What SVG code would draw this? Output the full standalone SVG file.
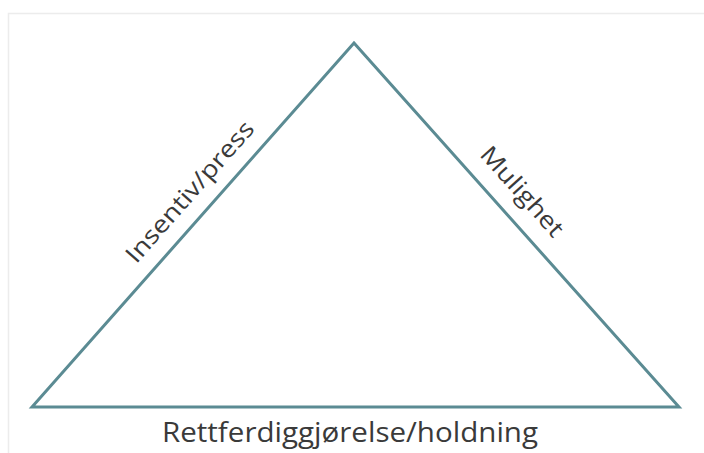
<svg xmlns="http://www.w3.org/2000/svg" width="704" height="453" viewBox="0 0 704 453">
  <style>
    .lbl { font-family: "Open Sans", "Noto Sans", "Liberation Sans", sans-serif; fill: #3a3a3a; }
    .edge { fill: none; stroke: #5b8b93; stroke-width: 3; stroke-linejoin: miter; }
  </style>
  <rect x="0" y="0" width="704" height="453" fill="#ffffff"/>
  <path d="M8.5 460 V13.5 H710" fill="none" stroke="#ececec" stroke-width="1.5"/>
  <g id="connectors">
    <polygon id="triangle" class="edge" points="354,43 679,407 32,407"/>
  </g>
  <g id="insentiv">
    <text class="lbl" font-size="24" text-anchor="middle" textLength="180" lengthAdjust="spacingAndGlyphs" transform="translate(196,197) rotate(-48.5)">Insentiv/press</text>
  </g>
  <g id="mulighet">
    <text class="lbl" font-size="24" text-anchor="middle" textLength="112" lengthAdjust="spacingAndGlyphs" transform="translate(516,197) rotate(48.2)">Mulighet</text>
  </g>
  <g id="rettferdiggjorelse">
    <text class="lbl" font-size="27" x="350" y="442" text-anchor="middle" textLength="376" lengthAdjust="spacingAndGlyphs">Rettferdiggjørelse/holdning</text>
  </g>
</svg>
